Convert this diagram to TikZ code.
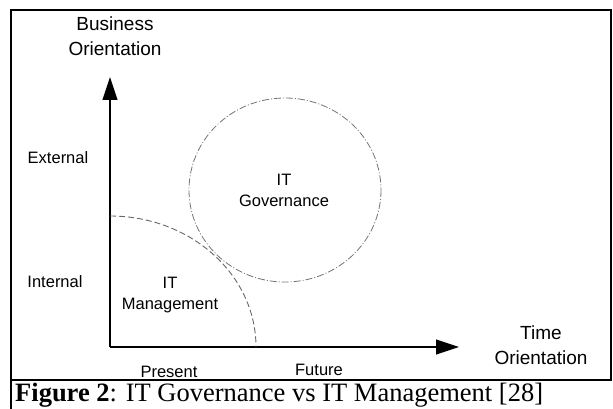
\documentclass[tikz,border=0pt]{standalone}
\usepackage{fontspec}
\setmainfont{Liberation Sans}
\newfontfamily\captionfont{Liberation Serif}
\usepackage{tikz}
\usetikzlibrary{arrows.meta}
\tikzset{
    axistitle/.style={align=center, inner sep=0pt, font=\fontsize{19}{25}\selectfont},
    zonelabel/.style={align=center, inner sep=0pt, font=\fontsize{16.5}{21}\selectfont},
    axisarrow/.style={line width=1.2pt, -{Triangle[length=23pt,width=15pt]}},
    frameline/.style={line width=2pt},
    govcircle/.style={gray!90!black, line width=0.8pt, dash pattern=on 7pt off 2pt on 1pt off 2pt},
    mgmtarc/.style={gray!80!black, line width=0.9pt, dash pattern=on 6pt off 3pt}
}

\begin{document}
\begin{tikzpicture}[x=1pt, y=-1pt]
                \useasboundingbox (0,0) rectangle (613,409);
                % frame and caption cell
                \draw[frameline] (11,10) rectangle (611,380);
                \draw[frameline] (11,380) -- (11,409);
                \node[anchor=west, inner sep=0pt, font=\captionfont\fontsize{26.5}{30}\selectfont] (caption) at (15,395) {\textbf{Figure 2}: IT Governance vs IT Management [28]};
                % axes
                \coordinate (origin) at (110,347);
                \coordinate (ytip) at (110,77);
                \coordinate (xtip) at (459,347);
                \draw[axisarrow] (origin) -- (ytip);
                \draw[axisarrow] (origin) -- (xtip);
                \node[axistitle] (business) at (115,36) {Business\\Orientation};
                \node[axistitle] (time) at (541,345) {Time\\Orientation};
                \node[zonelabel] (external) at (58,158) {External};
                \node[zonelabel] (internal) at (55,282) {Internal};
                \node[zonelabel] (present) at (169,372) {Present};
                \node[zonelabel] (future) at (319,370) {Future};
                % zones
                \draw[govcircle] (285,190) ellipse [x radius=96, y radius=92];
                \draw[mgmtarc] (110,216) arc [start angle=-90, end angle=0, x radius=146, y radius=131];
                \node[zonelabel] (itgov) at (284,190) {IT\\Governance};
                \node[zonelabel] (itmgmt) at (170,295) {IT\\Management};
            \end{tikzpicture}
\end{document}
